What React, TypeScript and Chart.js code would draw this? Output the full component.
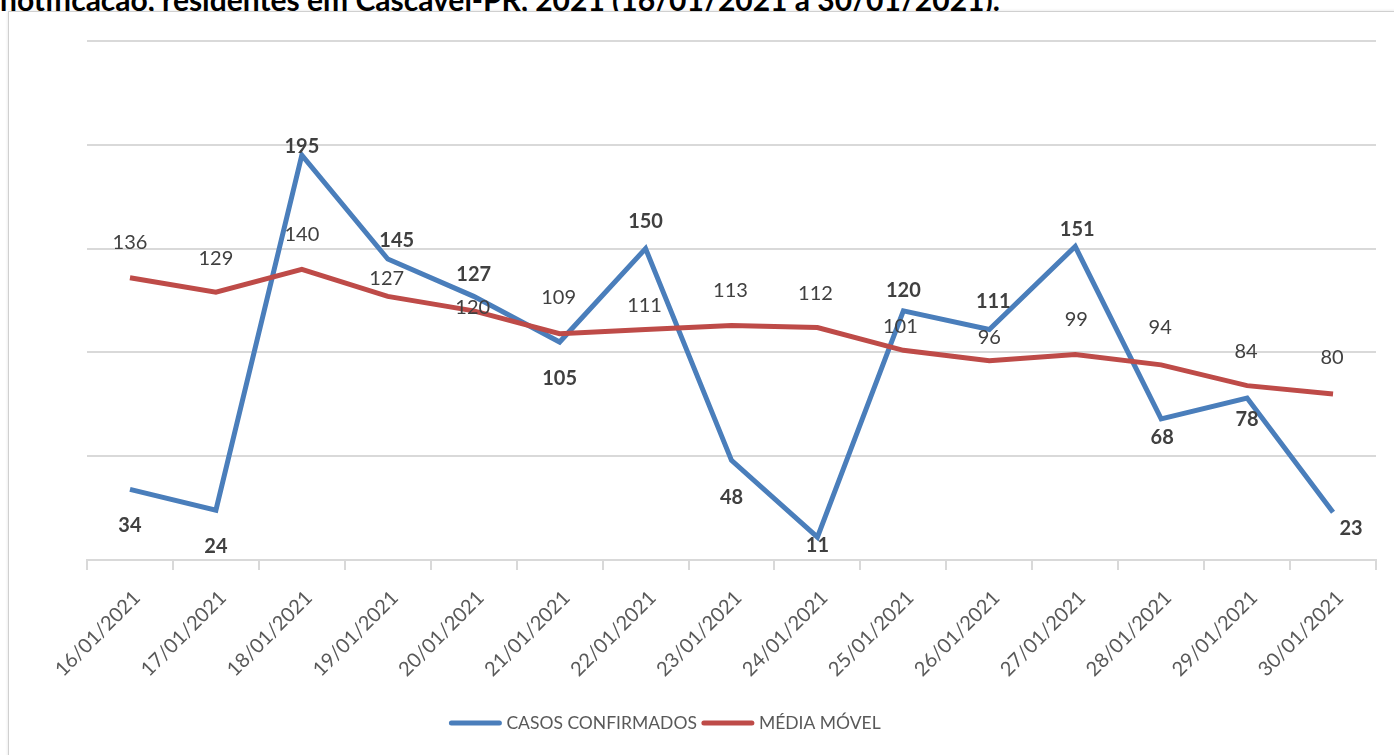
import React, { useEffect, useRef } from "react";
import { Chart, registerables } from "chart.js";

Chart.register(...registerables);

const categories = [
  "16/01/2021", "17/01/2021", "18/01/2021", "19/01/2021", "20/01/2021",
  "21/01/2021", "22/01/2021", "23/01/2021", "24/01/2021", "25/01/2021",
  "26/01/2021", "27/01/2021", "28/01/2021", "29/01/2021", "30/01/2021",
];

const casosConfirmados = [34, 24, 195, 145, 127, 105, 150, 48, 11, 120, 111, 151, 68, 78, 23];
const mediaMovel = [136, 129, 140, 127, 120, 109, 111, 113, 112, 101, 96, 99, 94, 84, 80];

// label placement (pixel nudges relative to each point), formatting only
const casosLabelOffsets: [number, number][] = [
  [0, 36], [0, 36], [0, -9], [9, -18], [0, -22], [0, 37], [0, -27], [0, 37],
  [0, 8], [0, -20], [4, -28], [2, -17], [1, 19], [0, 21], [18, 16],
];
const mediaLabelOffsets: [number, number][] = [
  [0, -35], [0, -34], [0, -35], [-1, -18], [-1, -3], [-1, -36], [-1, -24], [-1, -35],
  [-2, -34], [-3, -24], [0, -23], [1, -35], [-1, -37], [-1, -34], [-1, -36],
];

const BLUE = "#4A7EBB";
const RED = "#BE4B48";
const GRID = "#d9d9d9";
const FONT = "Lato, 'Open Sans', sans-serif";

const labelPlugin = {
  id: "pointLabels",
  afterDatasetsDraw(chart: any) {
    const ctx = chart.ctx;
    ctx.save();
    ctx.textAlign = "center";
    ctx.textBaseline = "middle";
    chart.data.datasets.forEach((ds: any, di: number) => {
      const meta = chart.getDatasetMeta(di);
      const offs = di === 0 ? casosLabelOffsets : mediaLabelOffsets;
      ctx.font = (di === 0 ? "bold " : "") + "20px " + FONT;
      ctx.fillStyle = "#404040";
      meta.data.forEach((pt: any, i: number) => {
        const [dx, dy] = offs[i] || [0, -30];
        ctx.fillText(String(ds.data[i]), pt.x + dx, pt.y + dy);
      });
    });
    ctx.restore();
  },
};

const legendPlugin = {
  id: "customLegend",
  afterDraw(chart: any) {
    const ctx = chart.ctx;
    const centerX = 665;
    const y = 723;
    const lineW = 52;
    const gap = 5;
    ctx.save();
    ctx.font = "17.5px " + FONT;
    ctx.textBaseline = "middle";
    ctx.textAlign = "left";
    const items = chart.data.datasets.map((ds: any) => ({
      label: ds.label,
      color: ds.borderColor,
      w: ctx.measureText(ds.label).width,
    }));
    let total = 0;
    items.forEach((it: any, i: number) => {
      total += lineW + gap + it.w + (i < items.length - 1 ? gap : 0);
    });
    let x = centerX - total / 2;
    items.forEach((it: any) => {
      ctx.strokeStyle = it.color;
      ctx.lineWidth = 5;
      ctx.lineCap = "round";
      ctx.beginPath();
      ctx.moveTo(x + 2, y);
      ctx.lineTo(x + lineW - 2, y);
      ctx.stroke();
      x += lineW + gap;
      ctx.fillStyle = "#595959";
      ctx.fillText(it.label, x, y);
      x += it.w + gap;
    });
    ctx.restore();
  },
};

export default function App() {
  const canvasRef = useRef<HTMLCanvasElement>(null);

  useEffect(() => {
    document.body.style.margin = "0";
    const canvas = canvasRef.current;
    if (!canvas) return;
    const chart = new Chart(canvas, {
      type: "line",
      data: {
        labels: categories,
        datasets: [
          {
            label: "CASOS CONFIRMADOS",
            data: casosConfirmados,
            borderColor: BLUE,
            backgroundColor: BLUE,
            borderWidth: 5,
            pointRadius: 0,
            tension: 0,
            order: 2,
          },
          {
            label: "MÉDIA MÓVEL",
            data: mediaMovel,
            borderColor: RED,
            backgroundColor: RED,
            borderWidth: 5,
            pointRadius: 0,
            tension: 0,
            order: 1,
          },
        ],
      },
      options: {
        animation: false,
        responsive: false,
        maintainAspectRatio: false,
        layout: { padding: { left: 87, right: 18, top: 41, bottom: 51 } },
        plugins: {
          legend: { display: false },
          tooltip: { enabled: false },
        },
        scales: {
          x: {
            offset: true,
            grid: {
              offset: true,
              drawOnChartArea: false,
              drawTicks: true,
              tickLength: 10,
              color: GRID,
              lineWidth: 2,
            },
            border: { display: true, color: GRID, width: 2 },
            ticks: {
              minRotation: 45,
              maxRotation: 45,
              autoSkip: false,
              padding: 16,
              labelOffset: 7,
              color: "#595959",
              font: { family: FONT, size: 20 },
            },
            afterFit: (scale: any) => {
              scale.height = 144;
            },
          },
          y: {
            min: 0,
            max: 250,
            ticks: { stepSize: 50, display: false },
            grid: { color: GRID, lineWidth: 2, drawTicks: false },
            border: { display: false },
          },
        },
      },
      plugins: [labelPlugin, legendPlugin],
    });
    return () => chart.destroy();
  }, []);

  return (
    <div style={{ position: "relative", width: 1394, height: 755, overflow: "hidden", background: "#fff" }}>
      <div
        style={{
          position: "absolute",
          left: 0,
          top: -15,
          fontFamily: FONT,
          fontWeight: "bold",
          fontSize: 30,
          lineHeight: "29px",
          whiteSpace: "nowrap",
          color: "#000",
        }}
      >
        notificação, residentes em Cascavel-PR, 2021 (16/01/2021 a 30/01/2021).
      </div>
      <div
        style={{
          position: "absolute",
          left: 8,
          top: 11,
          width: 1400,
          height: 760,
          border: "1px solid #d0d0d0",
          boxShadow: "0 0 3px rgba(0,0,0,0.12)",
          boxSizing: "border-box",
          background: "#fff",
        }}
      />
      <canvas
        ref={canvasRef}
        width={1394}
        height={755}
        style={{ position: "absolute", left: 0, top: 0, width: 1394, height: 755 }}
      />
    </div>
  );
}
